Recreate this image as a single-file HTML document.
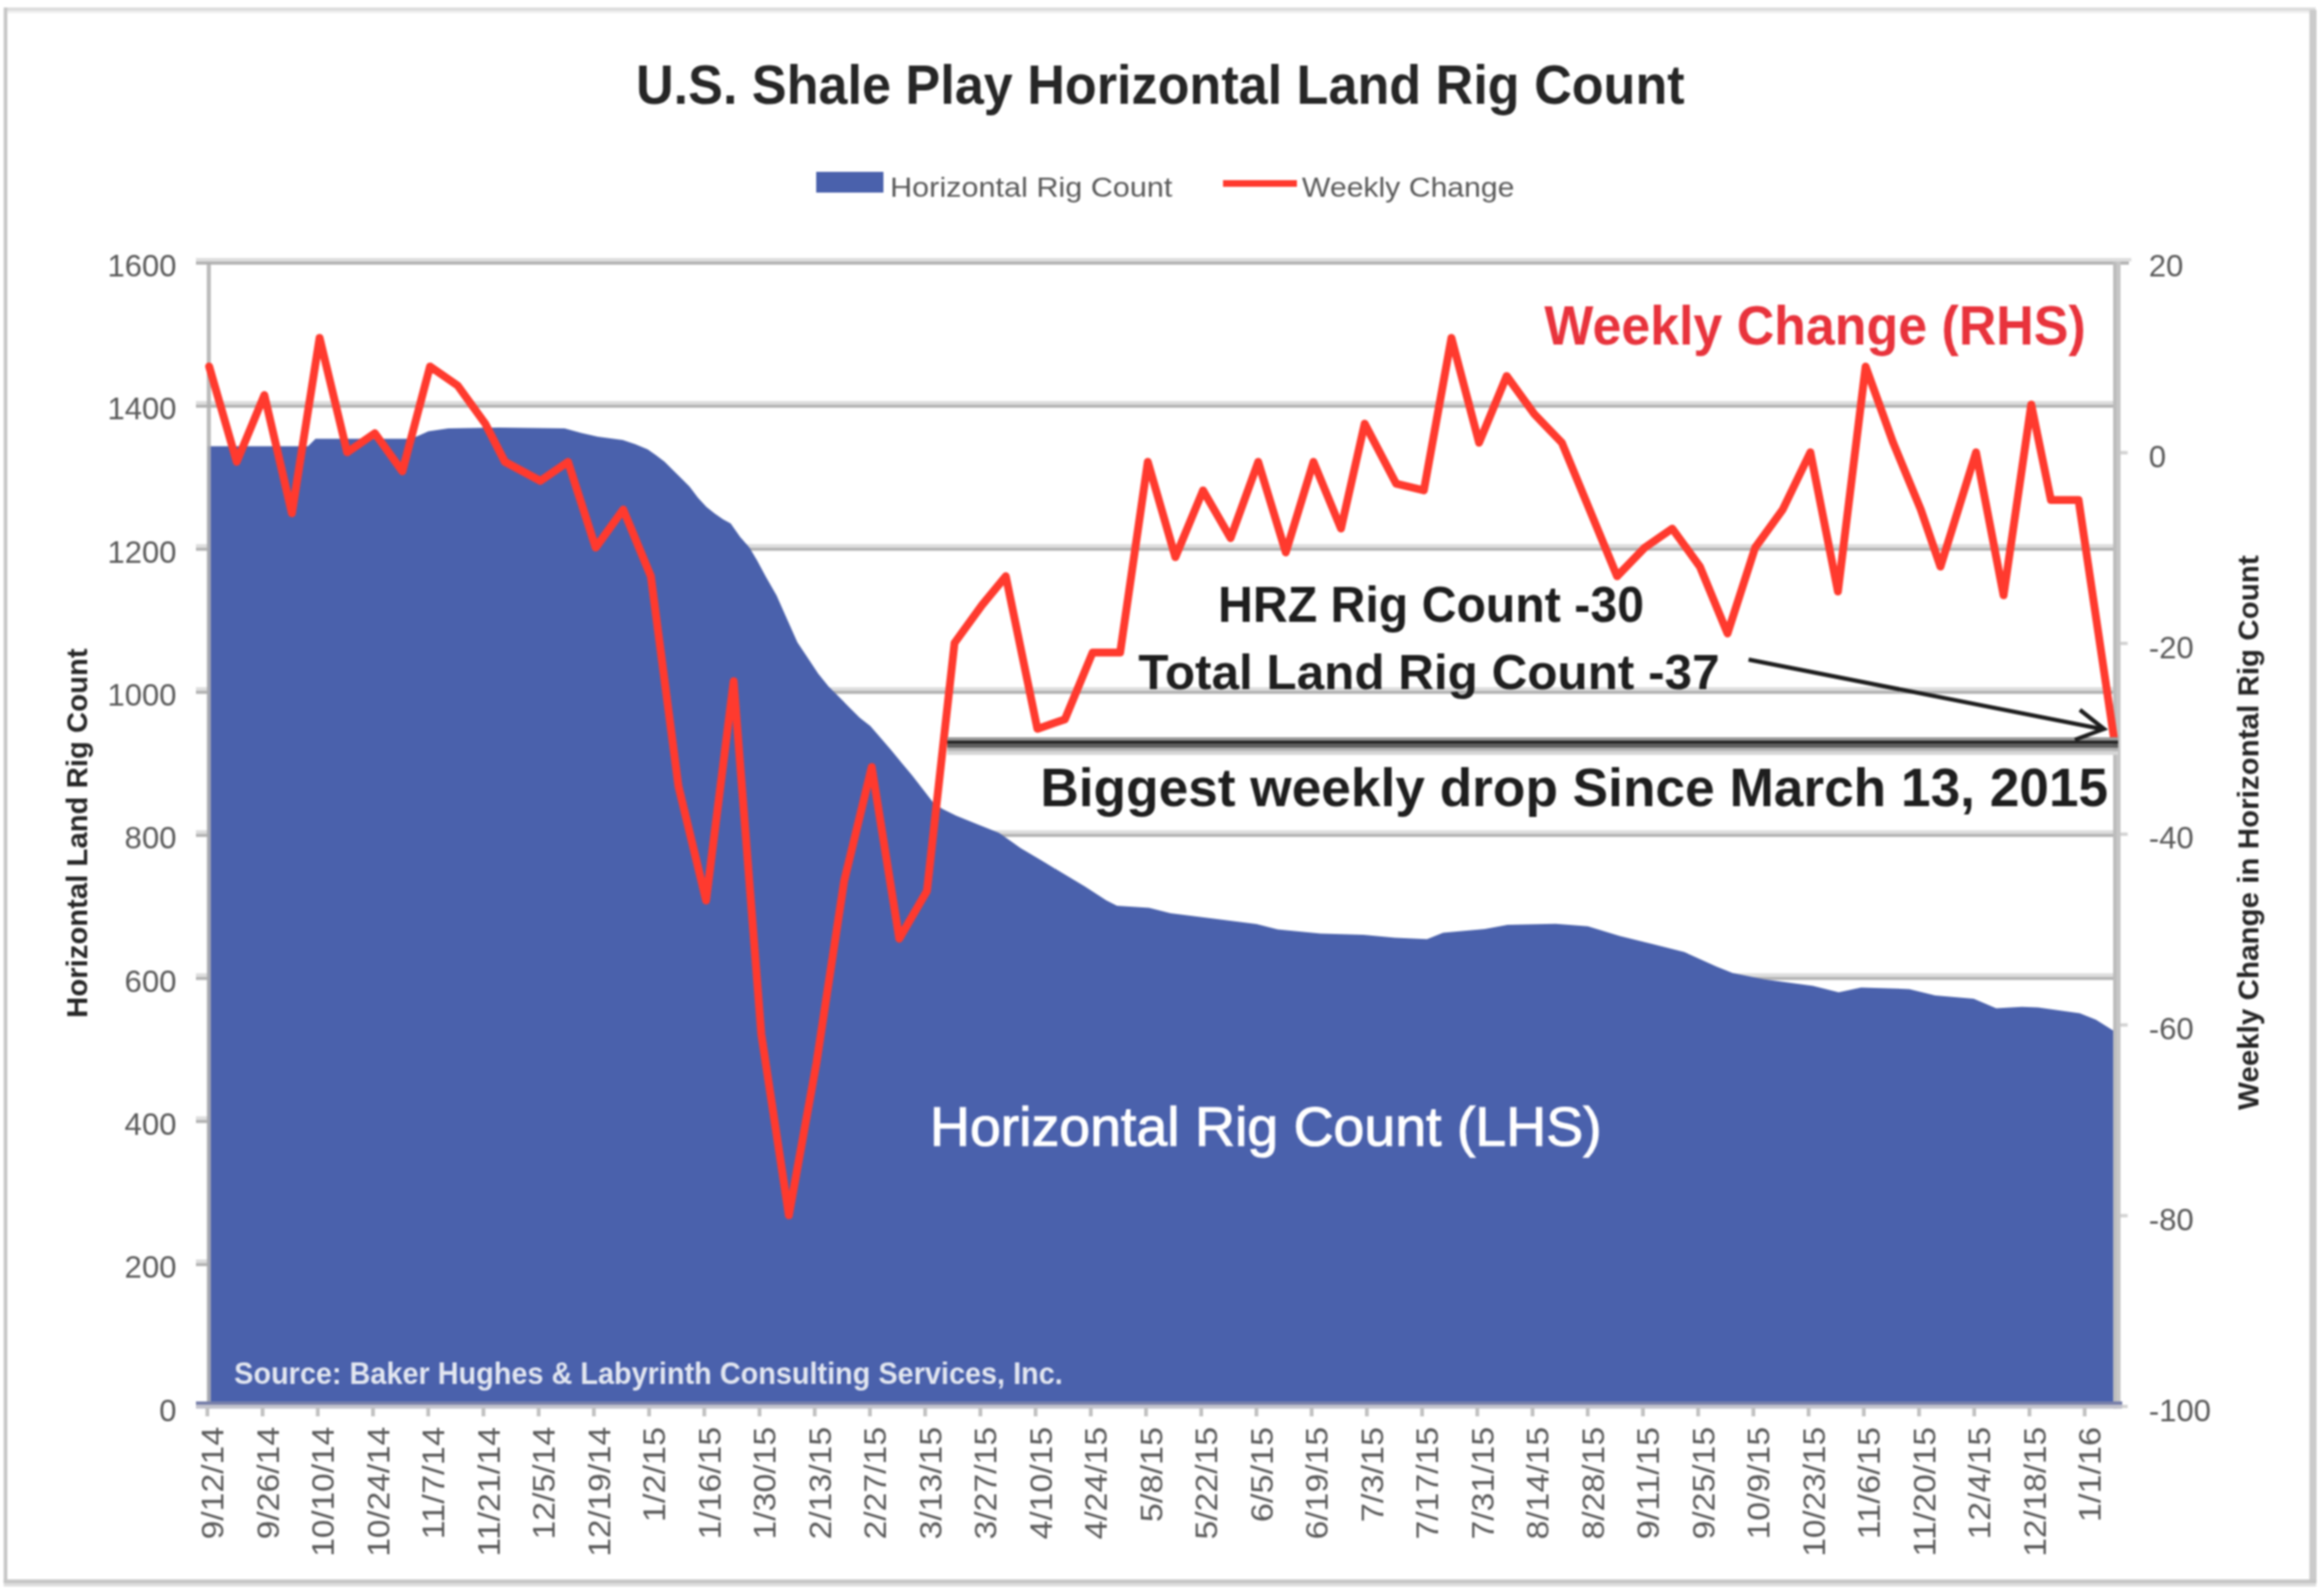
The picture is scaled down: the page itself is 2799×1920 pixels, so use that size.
<!DOCTYPE html>
<html><head><meta charset="utf-8"><title>U.S. Shale Play Horizontal Land Rig Count</title>
<style>html,body{margin:0;padding:0;background:#fff;}svg{display:block;filter:blur(0.9px);}</style>
</head><body>
<svg width="2799" height="1920" viewBox="0 0 2799 1920">
<rect x="0" y="0" width="2799" height="1920" fill="#ffffff"/>
<rect x="5" y="9" width="2784" height="4" fill="#dcdcdc"/>
<rect x="9" y="13" width="2773" height="3" fill="#f0f0f0"/>
<rect x="4.5" y="9" width="4.3" height="1898" fill="#c6c6c6"/>
<rect x="2781.5" y="12" width="8.5" height="1895" fill="#cbcbcb"/>
<rect x="4.5" y="1902.5" width="2785" height="4.5" fill="#c6c6c6"/>
<rect x="4.5" y="1907" width="2785" height="4" fill="#dedede"/>
<rect x="236" y="310.7" width="2331" height="4.3" fill="#dedede"/>
<rect x="236" y="315" width="2328" height="3.8" fill="#b3b3b3"/>
<rect x="236" y="483" width="2313" height="4.3" fill="#dedede"/>
<rect x="236" y="487.3" width="2310" height="3.8" fill="#b3b3b3"/>
<rect x="236" y="655.4" width="2313" height="4.3" fill="#dedede"/>
<rect x="236" y="659.6" width="2310" height="3.8" fill="#b3b3b3"/>
<rect x="236" y="827.7" width="2313" height="4.3" fill="#dedede"/>
<rect x="236" y="832" width="2310" height="3.8" fill="#b3b3b3"/>
<rect x="236" y="1000" width="2313" height="4.3" fill="#dedede"/>
<rect x="236" y="1004.3" width="2310" height="3.8" fill="#b3b3b3"/>
<rect x="236" y="1172.3" width="2313" height="4.3" fill="#dedede"/>
<rect x="236" y="1176.6" width="2310" height="3.8" fill="#b3b3b3"/>
<rect x="236" y="1344.6" width="2313" height="4.3" fill="#dedede"/>
<rect x="236" y="1348.9" width="2310" height="3.8" fill="#b3b3b3"/>
<rect x="236" y="1517" width="2313" height="4.3" fill="#dedede"/>
<rect x="236" y="1521.3" width="2310" height="3.8" fill="#b3b3b3"/>
<rect x="2552.5" y="543.3" width="10" height="4" fill="#d2d2d2"/>
<rect x="2552.5" y="773" width="10" height="4" fill="#d2d2d2"/>
<rect x="2552.5" y="1002.8" width="10" height="4" fill="#d2d2d2"/>
<rect x="2552.5" y="1232.6" width="10" height="4" fill="#d2d2d2"/>
<rect x="2552.5" y="1462.3" width="10" height="4" fill="#d2d2d2"/>
<rect x="2552.5" y="1692.1" width="10" height="4" fill="#d2d2d2"/>
<polygon points="250.5,537.5 371,537.5 380,528.5 495,528.5 506,524 516,519.5 540,516 600,515 680,516 700,521.6 720,526.1 750,530.1 765,535.1 780,541.2 790,548.2 800.5,556.2 810.5,566.3 820.6,576.3 830.6,586.3 840.6,599.4 850.7,610.4 860.7,618.5 870.8,625.5 880,630.5 891.4,646.7 902.4,659.2 911.8,674.9 922.7,695.3 935.3,717.3 947.8,745.5 960.4,773.7 972.9,792.5 985.5,811.4 998,827 1010.6,839.6 1023.1,852.2 1035.7,864.7 1048.2,874.5 1060.8,889 1073.3,903.6 1085.8,918.7 1098.4,933.7 1111,950 1124.9,968 1135.4,974.6 1151.6,982.6 1177.5,993 1203.3,1003.3 1229.1,1021.4 1254.9,1036.8 1280.7,1052.3 1306.6,1067.8 1332.4,1084.6 1345.3,1091 1384,1093.6 1409.8,1100.1 1461.5,1106.6 1513.1,1113 1538.9,1119.5 1590.6,1124.6 1642.2,1125.9 1680,1129.4 1718.7,1131.3 1738.1,1123.6 1788.4,1118.9 1815.6,1113.9 1873.6,1112.7 1912.4,1115.8 1951.1,1127.5 1989.8,1137.1 2028.6,1146.8 2067.3,1164.2 2086.7,1172 2125.4,1179.7 2183.5,1187.5 2214.5,1195.2 2241.6,1189.4 2299.7,1191.4 2330.6,1199.1 2377.1,1203 2404.2,1214.6 2435.2,1212.7 2454.6,1213.4 2504.9,1220.4 2524.3,1228.2 2548.5,1243.6 2548.5,1693.6 250.5,1693.6" fill="#4a61ac"/>
<rect x="249" y="315.0" width="5" height="1381.6" fill="#b0b0b0" fill-opacity="0.85"/>
<rect x="2545" y="315.0" width="9" height="1381.6" fill="#c6c6c6"/>
<rect x="2545" y="315.0" width="4" height="1381.6" fill="#bcbcbc"/>
<rect x="236" y="1688" width="2320" height="4" fill="#7880aa"/>
<rect x="236" y="1692" width="2320" height="4.7" fill="#c2c2cc"/>
<rect x="247.5" y="1696" width="4.5" height="10" fill="#c0c0c0"/>
<rect x="314" y="1696" width="4.5" height="10" fill="#c0c0c0"/>
<rect x="380.5" y="1696" width="4.5" height="10" fill="#c0c0c0"/>
<rect x="447" y="1696" width="4.5" height="10" fill="#c0c0c0"/>
<rect x="513.5" y="1696" width="4.5" height="10" fill="#c0c0c0"/>
<rect x="580" y="1696" width="4.5" height="10" fill="#c0c0c0"/>
<rect x="646.5" y="1696" width="4.5" height="10" fill="#c0c0c0"/>
<rect x="713" y="1696" width="4.5" height="10" fill="#c0c0c0"/>
<rect x="779.5" y="1696" width="4.5" height="10" fill="#c0c0c0"/>
<rect x="846" y="1696" width="4.5" height="10" fill="#c0c0c0"/>
<rect x="912.5" y="1696" width="4.5" height="10" fill="#c0c0c0"/>
<rect x="979" y="1696" width="4.5" height="10" fill="#c0c0c0"/>
<rect x="1045.5" y="1696" width="4.5" height="10" fill="#c0c0c0"/>
<rect x="1112" y="1696" width="4.5" height="10" fill="#c0c0c0"/>
<rect x="1178.5" y="1696" width="4.5" height="10" fill="#c0c0c0"/>
<rect x="1245" y="1696" width="4.5" height="10" fill="#c0c0c0"/>
<rect x="1311.5" y="1696" width="4.5" height="10" fill="#c0c0c0"/>
<rect x="1378" y="1696" width="4.5" height="10" fill="#c0c0c0"/>
<rect x="1444.5" y="1696" width="4.5" height="10" fill="#c0c0c0"/>
<rect x="1511" y="1696" width="4.5" height="10" fill="#c0c0c0"/>
<rect x="1577.5" y="1696" width="4.5" height="10" fill="#c0c0c0"/>
<rect x="1644" y="1696" width="4.5" height="10" fill="#c0c0c0"/>
<rect x="1710.5" y="1696" width="4.5" height="10" fill="#c0c0c0"/>
<rect x="1777" y="1696" width="4.5" height="10" fill="#c0c0c0"/>
<rect x="1843.5" y="1696" width="4.5" height="10" fill="#c0c0c0"/>
<rect x="1910" y="1696" width="4.5" height="10" fill="#c0c0c0"/>
<rect x="1976.5" y="1696" width="4.5" height="10" fill="#c0c0c0"/>
<rect x="2043" y="1696" width="4.5" height="10" fill="#c0c0c0"/>
<rect x="2109.5" y="1696" width="4.5" height="10" fill="#c0c0c0"/>
<rect x="2176" y="1696" width="4.5" height="10" fill="#c0c0c0"/>
<rect x="2242.5" y="1696" width="4.5" height="10" fill="#c0c0c0"/>
<rect x="2309" y="1696" width="4.5" height="10" fill="#c0c0c0"/>
<rect x="2375.5" y="1696" width="4.5" height="10" fill="#c0c0c0"/>
<rect x="2442" y="1696" width="4.5" height="10" fill="#c0c0c0"/>
<rect x="2508.5" y="1696" width="4.5" height="10" fill="#c0c0c0"/>
<polyline points="251.9,441.4 285.1,556.3 318.4,475.8 351.6,618.3 384.9,406.9 418.1,544.8 451.4,521.8 484.6,567.7 517.9,441.4 551.1,464.3 584.4,510.3 608.1,556.3 650.9,579.2 684.1,556.3 717.4,659.6 750.6,613.7 783.9,694.1 817.1,946.9 850.4,1084.7 883.6,820.5 916.9,1245.6 950.1,1463.8 983.4,1280 1016.6,1061.7 1049.9,923.9 1083.1,1130.7 1116.4,1073.2 1149.6,774.5 1182.9,728.6 1211.4,694.1 1249.4,877.9 1282.6,866.4 1315.9,786 1349.1,786 1382.4,556.3 1415.6,671.1 1448.9,590.7 1482.1,648.2 1515.4,556.3 1548.6,665.4 1581.9,556.3 1615.1,636.7 1643.6,510.3 1681.6,582.7 1714.9,590.7 1748.1,406.9 1781.4,533.3 1814.6,452.9 1847.9,498.8 1881.1,533.3 1914.4,613.7 1947.6,694.1 1980.9,659.6 2014.1,636.7 2047.4,682.6 2080.6,763 2113.9,659.6 2147.1,613.7 2180.4,544.8 2213.6,712.5 2246.9,441.4 2280.1,533.3 2313.4,613.7 2337.1,682.6 2379.9,544.8 2413.1,717.1 2446.4,487.3 2470.1,602.2 2503.4,602.2 2546.1,889.4" fill="none" stroke="#ff3a2e" stroke-width="9.5" stroke-linejoin="round" stroke-linecap="round"/>
<rect x="1141" y="888" width="1410" height="4" fill="#9a9a9a"/>
<rect x="1141" y="892" width="1410" height="4.5" fill="#282828"/>
<rect x="1141" y="896.5" width="1410" height="4.3" fill="#5a5a5a"/>
<rect x="1141" y="900.8" width="1410" height="4" fill="#b0b0b0"/>
<rect x="1141" y="904.8" width="1410" height="4.5" fill="#d6d6d6"/>
<line x1="2106" y1="794.5" x2="2531" y2="878" stroke="#1e1e1e" stroke-width="5"/>
<polyline points="2505,855 2534,878 2499,891" fill="none" stroke="#1e1e1e" stroke-width="5" stroke-linejoin="miter"/>
<text x="766" y="125" font-family="'Liberation Sans', Arial, sans-serif" font-size="66" font-weight="bold" fill="#262626" text-anchor="start" textLength="1263" lengthAdjust="spacingAndGlyphs">U.S. Shale Play Horizontal Land Rig Count</text>
<rect x="983" y="207" width="81" height="25" fill="#4a61ac"/>
<text x="1072" y="236.5" font-family="'Liberation Sans', Arial, sans-serif" font-size="34" font-weight="normal" fill="#595959" text-anchor="start" textLength="340" lengthAdjust="spacingAndGlyphs">Horizontal Rig Count</text>
<line x1="1473" y1="221" x2="1562" y2="221" stroke="#ff3a2e" stroke-width="8"/>
<text x="1568" y="236.5" font-family="'Liberation Sans', Arial, sans-serif" font-size="34" font-weight="normal" fill="#595959" text-anchor="start" textLength="256" lengthAdjust="spacingAndGlyphs">Weekly Change</text>
<text x="212.5" y="333" font-family="'Liberation Sans', Arial, sans-serif" font-size="36" font-weight="normal" fill="#595959" text-anchor="end" textLength="83.1" lengthAdjust="spacingAndGlyphs">1600</text>
<text x="212.5" y="505.3" font-family="'Liberation Sans', Arial, sans-serif" font-size="36" font-weight="normal" fill="#595959" text-anchor="end" textLength="83.1" lengthAdjust="spacingAndGlyphs">1400</text>
<text x="212.5" y="677.6" font-family="'Liberation Sans', Arial, sans-serif" font-size="36" font-weight="normal" fill="#595959" text-anchor="end" textLength="83.1" lengthAdjust="spacingAndGlyphs">1200</text>
<text x="212.5" y="850" font-family="'Liberation Sans', Arial, sans-serif" font-size="36" font-weight="normal" fill="#595959" text-anchor="end" textLength="83.1" lengthAdjust="spacingAndGlyphs">1000</text>
<text x="212.5" y="1022.3" font-family="'Liberation Sans', Arial, sans-serif" font-size="36" font-weight="normal" fill="#595959" text-anchor="end" textLength="62.4" lengthAdjust="spacingAndGlyphs">800</text>
<text x="212.5" y="1194.6" font-family="'Liberation Sans', Arial, sans-serif" font-size="36" font-weight="normal" fill="#595959" text-anchor="end" textLength="62.4" lengthAdjust="spacingAndGlyphs">600</text>
<text x="212.5" y="1366.9" font-family="'Liberation Sans', Arial, sans-serif" font-size="36" font-weight="normal" fill="#595959" text-anchor="end" textLength="62.4" lengthAdjust="spacingAndGlyphs">400</text>
<text x="212.5" y="1539.3" font-family="'Liberation Sans', Arial, sans-serif" font-size="36" font-weight="normal" fill="#595959" text-anchor="end" textLength="62.4" lengthAdjust="spacingAndGlyphs">200</text>
<text x="212.5" y="1711.6" font-family="'Liberation Sans', Arial, sans-serif" font-size="36" font-weight="normal" fill="#595959" text-anchor="end" textLength="20.8" lengthAdjust="spacingAndGlyphs">0</text>
<text x="2588" y="333" font-family="'Liberation Sans', Arial, sans-serif" font-size="36" font-weight="normal" fill="#595959" text-anchor="start" textLength="41.6" lengthAdjust="spacingAndGlyphs">20</text>
<text x="2588" y="562.8" font-family="'Liberation Sans', Arial, sans-serif" font-size="36" font-weight="normal" fill="#595959" text-anchor="start" textLength="20.8" lengthAdjust="spacingAndGlyphs">0</text>
<text x="2588" y="792.5" font-family="'Liberation Sans', Arial, sans-serif" font-size="36" font-weight="normal" fill="#595959" text-anchor="start" textLength="54.1" lengthAdjust="spacingAndGlyphs">-20</text>
<text x="2588" y="1022.3" font-family="'Liberation Sans', Arial, sans-serif" font-size="36" font-weight="normal" fill="#595959" text-anchor="start" textLength="54.1" lengthAdjust="spacingAndGlyphs">-40</text>
<text x="2588" y="1252.1" font-family="'Liberation Sans', Arial, sans-serif" font-size="36" font-weight="normal" fill="#595959" text-anchor="start" textLength="54.1" lengthAdjust="spacingAndGlyphs">-60</text>
<text x="2588" y="1481.8" font-family="'Liberation Sans', Arial, sans-serif" font-size="36" font-weight="normal" fill="#595959" text-anchor="start" textLength="54.1" lengthAdjust="spacingAndGlyphs">-80</text>
<text x="2588" y="1711.6" font-family="'Liberation Sans', Arial, sans-serif" font-size="36" font-weight="normal" fill="#595959" text-anchor="start" textLength="74.9" lengthAdjust="spacingAndGlyphs">-100</text>
<text transform="translate(269,1718.7) rotate(-90)" font-family="'Liberation Sans', Arial, sans-serif" font-size="36" fill="#595959" text-anchor="end" textLength="135.6" lengthAdjust="spacingAndGlyphs">9/12/14</text>
<text transform="translate(335.5,1718.7) rotate(-90)" font-family="'Liberation Sans', Arial, sans-serif" font-size="36" fill="#595959" text-anchor="end" textLength="135.6" lengthAdjust="spacingAndGlyphs">9/26/14</text>
<text transform="translate(402,1718.7) rotate(-90)" font-family="'Liberation Sans', Arial, sans-serif" font-size="36" fill="#595959" text-anchor="end" textLength="156.4" lengthAdjust="spacingAndGlyphs">10/10/14</text>
<text transform="translate(468.5,1718.7) rotate(-90)" font-family="'Liberation Sans', Arial, sans-serif" font-size="36" fill="#595959" text-anchor="end" textLength="156.4" lengthAdjust="spacingAndGlyphs">10/24/14</text>
<text transform="translate(535,1718.7) rotate(-90)" font-family="'Liberation Sans', Arial, sans-serif" font-size="36" fill="#595959" text-anchor="end" textLength="135.6" lengthAdjust="spacingAndGlyphs">11/7/14</text>
<text transform="translate(601.5,1718.7) rotate(-90)" font-family="'Liberation Sans', Arial, sans-serif" font-size="36" fill="#595959" text-anchor="end" textLength="156.4" lengthAdjust="spacingAndGlyphs">11/21/14</text>
<text transform="translate(668,1718.7) rotate(-90)" font-family="'Liberation Sans', Arial, sans-serif" font-size="36" fill="#595959" text-anchor="end" textLength="135.6" lengthAdjust="spacingAndGlyphs">12/5/14</text>
<text transform="translate(734.5,1718.7) rotate(-90)" font-family="'Liberation Sans', Arial, sans-serif" font-size="36" fill="#595959" text-anchor="end" textLength="156.4" lengthAdjust="spacingAndGlyphs">12/19/14</text>
<text transform="translate(801,1718.7) rotate(-90)" font-family="'Liberation Sans', Arial, sans-serif" font-size="36" fill="#595959" text-anchor="end" textLength="114.8" lengthAdjust="spacingAndGlyphs">1/2/15</text>
<text transform="translate(867.5,1718.7) rotate(-90)" font-family="'Liberation Sans', Arial, sans-serif" font-size="36" fill="#595959" text-anchor="end" textLength="135.6" lengthAdjust="spacingAndGlyphs">1/16/15</text>
<text transform="translate(934,1718.7) rotate(-90)" font-family="'Liberation Sans', Arial, sans-serif" font-size="36" fill="#595959" text-anchor="end" textLength="135.6" lengthAdjust="spacingAndGlyphs">1/30/15</text>
<text transform="translate(1000.5,1718.7) rotate(-90)" font-family="'Liberation Sans', Arial, sans-serif" font-size="36" fill="#595959" text-anchor="end" textLength="135.6" lengthAdjust="spacingAndGlyphs">2/13/15</text>
<text transform="translate(1067,1718.7) rotate(-90)" font-family="'Liberation Sans', Arial, sans-serif" font-size="36" fill="#595959" text-anchor="end" textLength="135.6" lengthAdjust="spacingAndGlyphs">2/27/15</text>
<text transform="translate(1133.5,1718.7) rotate(-90)" font-family="'Liberation Sans', Arial, sans-serif" font-size="36" fill="#595959" text-anchor="end" textLength="135.6" lengthAdjust="spacingAndGlyphs">3/13/15</text>
<text transform="translate(1200,1718.7) rotate(-90)" font-family="'Liberation Sans', Arial, sans-serif" font-size="36" fill="#595959" text-anchor="end" textLength="135.6" lengthAdjust="spacingAndGlyphs">3/27/15</text>
<text transform="translate(1266.5,1718.7) rotate(-90)" font-family="'Liberation Sans', Arial, sans-serif" font-size="36" fill="#595959" text-anchor="end" textLength="135.6" lengthAdjust="spacingAndGlyphs">4/10/15</text>
<text transform="translate(1333,1718.7) rotate(-90)" font-family="'Liberation Sans', Arial, sans-serif" font-size="36" fill="#595959" text-anchor="end" textLength="135.6" lengthAdjust="spacingAndGlyphs">4/24/15</text>
<text transform="translate(1399.5,1718.7) rotate(-90)" font-family="'Liberation Sans', Arial, sans-serif" font-size="36" fill="#595959" text-anchor="end" textLength="114.8" lengthAdjust="spacingAndGlyphs">5/8/15</text>
<text transform="translate(1466,1718.7) rotate(-90)" font-family="'Liberation Sans', Arial, sans-serif" font-size="36" fill="#595959" text-anchor="end" textLength="135.6" lengthAdjust="spacingAndGlyphs">5/22/15</text>
<text transform="translate(1532.5,1718.7) rotate(-90)" font-family="'Liberation Sans', Arial, sans-serif" font-size="36" fill="#595959" text-anchor="end" textLength="114.8" lengthAdjust="spacingAndGlyphs">6/5/15</text>
<text transform="translate(1599,1718.7) rotate(-90)" font-family="'Liberation Sans', Arial, sans-serif" font-size="36" fill="#595959" text-anchor="end" textLength="135.6" lengthAdjust="spacingAndGlyphs">6/19/15</text>
<text transform="translate(1665.5,1718.7) rotate(-90)" font-family="'Liberation Sans', Arial, sans-serif" font-size="36" fill="#595959" text-anchor="end" textLength="114.8" lengthAdjust="spacingAndGlyphs">7/3/15</text>
<text transform="translate(1732,1718.7) rotate(-90)" font-family="'Liberation Sans', Arial, sans-serif" font-size="36" fill="#595959" text-anchor="end" textLength="135.6" lengthAdjust="spacingAndGlyphs">7/17/15</text>
<text transform="translate(1798.5,1718.7) rotate(-90)" font-family="'Liberation Sans', Arial, sans-serif" font-size="36" fill="#595959" text-anchor="end" textLength="135.6" lengthAdjust="spacingAndGlyphs">7/31/15</text>
<text transform="translate(1865,1718.7) rotate(-90)" font-family="'Liberation Sans', Arial, sans-serif" font-size="36" fill="#595959" text-anchor="end" textLength="135.6" lengthAdjust="spacingAndGlyphs">8/14/15</text>
<text transform="translate(1931.5,1718.7) rotate(-90)" font-family="'Liberation Sans', Arial, sans-serif" font-size="36" fill="#595959" text-anchor="end" textLength="135.6" lengthAdjust="spacingAndGlyphs">8/28/15</text>
<text transform="translate(1998,1718.7) rotate(-90)" font-family="'Liberation Sans', Arial, sans-serif" font-size="36" fill="#595959" text-anchor="end" textLength="135.6" lengthAdjust="spacingAndGlyphs">9/11/15</text>
<text transform="translate(2064.5,1718.7) rotate(-90)" font-family="'Liberation Sans', Arial, sans-serif" font-size="36" fill="#595959" text-anchor="end" textLength="135.6" lengthAdjust="spacingAndGlyphs">9/25/15</text>
<text transform="translate(2131,1718.7) rotate(-90)" font-family="'Liberation Sans', Arial, sans-serif" font-size="36" fill="#595959" text-anchor="end" textLength="135.6" lengthAdjust="spacingAndGlyphs">10/9/15</text>
<text transform="translate(2197.5,1718.7) rotate(-90)" font-family="'Liberation Sans', Arial, sans-serif" font-size="36" fill="#595959" text-anchor="end" textLength="156.4" lengthAdjust="spacingAndGlyphs">10/23/15</text>
<text transform="translate(2264,1718.7) rotate(-90)" font-family="'Liberation Sans', Arial, sans-serif" font-size="36" fill="#595959" text-anchor="end" textLength="135.6" lengthAdjust="spacingAndGlyphs">11/6/15</text>
<text transform="translate(2330.5,1718.7) rotate(-90)" font-family="'Liberation Sans', Arial, sans-serif" font-size="36" fill="#595959" text-anchor="end" textLength="156.4" lengthAdjust="spacingAndGlyphs">11/20/15</text>
<text transform="translate(2397,1718.7) rotate(-90)" font-family="'Liberation Sans', Arial, sans-serif" font-size="36" fill="#595959" text-anchor="end" textLength="135.6" lengthAdjust="spacingAndGlyphs">12/4/15</text>
<text transform="translate(2463.5,1718.7) rotate(-90)" font-family="'Liberation Sans', Arial, sans-serif" font-size="36" fill="#595959" text-anchor="end" textLength="156.4" lengthAdjust="spacingAndGlyphs">12/18/15</text>
<text transform="translate(2530,1718.7) rotate(-90)" font-family="'Liberation Sans', Arial, sans-serif" font-size="36" fill="#595959" text-anchor="end" textLength="114.8" lengthAdjust="spacingAndGlyphs">1/1/16</text>
<text transform="translate(105,1003.5) rotate(-90)" font-family="'Liberation Sans', Arial, sans-serif" font-size="35" font-weight="bold" fill="#262626" text-anchor="middle" textLength="445" lengthAdjust="spacingAndGlyphs">Horizontal Land Rig Count</text>
<text transform="translate(2720,1003) rotate(-90)" font-family="'Liberation Sans', Arial, sans-serif" font-size="35" font-weight="bold" fill="#262626" text-anchor="middle" textLength="668" lengthAdjust="spacingAndGlyphs">Weekly Change in Horizontal Rig Count</text>
<text x="1860" y="414.8" font-family="'Liberation Sans', Arial, sans-serif" font-size="66" font-weight="bold" fill="#e8333c" text-anchor="start" textLength="652" lengthAdjust="spacingAndGlyphs">Weekly Change (RHS)</text>
<text x="1467" y="748.8" font-family="'Liberation Sans', Arial, sans-serif" font-size="62" font-weight="bold" fill="#1e1e1e" text-anchor="start" textLength="513" lengthAdjust="spacingAndGlyphs">HRZ Rig Count -30</text>
<text x="1371" y="829.7" font-family="'Liberation Sans', Arial, sans-serif" font-size="60" font-weight="bold" fill="#1e1e1e" text-anchor="start" textLength="700" lengthAdjust="spacingAndGlyphs">Total Land Rig Count -37</text>
<text x="1253" y="970.5" font-family="'Liberation Sans', Arial, sans-serif" font-size="64" font-weight="bold" fill="#1e1e1e" text-anchor="start" textLength="1286" lengthAdjust="spacingAndGlyphs">Biggest weekly drop Since March 13, 2015</text>
<text x="1120" y="1380.3" font-family="'Liberation Sans', Arial, sans-serif" font-size="66" font-weight="normal" fill="#ffffff" text-anchor="start" textLength="809" lengthAdjust="spacingAndGlyphs" stroke="#ffffff" stroke-width="1.2">Horizontal Rig Count (LHS)</text>
<text x="282" y="1667" font-family="'Liberation Sans', Arial, sans-serif" font-size="37" font-weight="bold" fill="#e2e6f0" text-anchor="start" textLength="998" lengthAdjust="spacingAndGlyphs">Source: Baker Hughes &amp; Labyrinth Consulting Services, Inc.</text>
</svg>
</body></html>
